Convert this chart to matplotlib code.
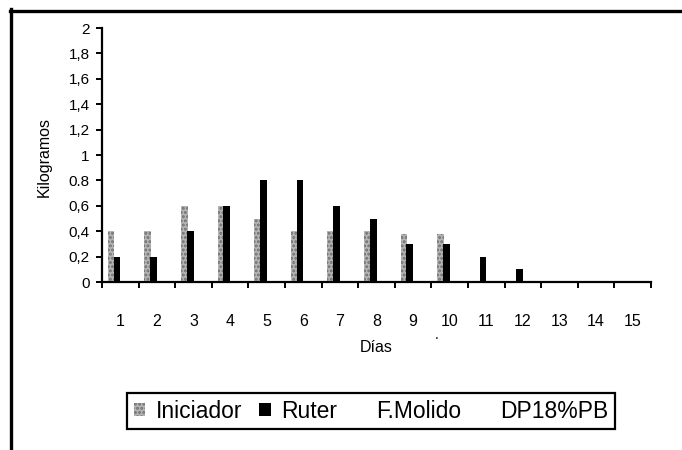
import numpy as np
import matplotlib
matplotlib.use("Agg")
import matplotlib.pyplot as plt
from matplotlib.patches import Patch
from matplotlib.lines import Line2D

plt.rcParams['font.family'] = ['Liberation Sans', 'DejaVu Sans']
plt.rcParams['hatch.linewidth'] = 1.4

# data
dias = [str(d) for d in range(1, 16)]
iniciador = [0.4, 0.4, 0.6, 0.6, 0.5, 0.4, 0.4, 0.4, 0.38, 0.38, 0, 0, 0, 0, 0]
ruter = [0.2, 0.2, 0.4, 0.6, 0.8, 0.8, 0.6, 0.5, 0.3, 0.3, 0.2, 0.1, 0, 0, 0]
series_names = ["Iniciador", "Ruter", "F.Molido", "DP18%PB"]
y_ticks = [0, 0.2, 0.4, 0.6, 0.8, 1, 1.2, 1.4, 1.6, 1.8, 2]
y_labels = ["0", "0,2", "0,4", "0,6", "0.8", "1", "1,2", "1,4", "1,6", "1,8", "2"]

W, H = 682, 450
fig = plt.figure(figsize=(W / 100, H / 100), dpi=100)
ax = fig.add_axes([102 / W, 1 - 282 / H, (651 - 102) / W, (282 - 28) / H])

x = np.arange(1, len(dias) + 1)
bw = 0.18
ax.bar(x - 0.25, iniciador, width=bw, color="#b4b4b4", edgecolor="#6e6e6e",
       hatch="....", linewidth=0)
ax.bar(x - 0.09, ruter, width=bw + 0.01, color="black", linewidth=0)

ax.set_xlim(0.5, 15.5)
ax.set_ylim(0, 2)
ax.set_yticks(y_ticks)
ax.set_yticklabels(y_labels, fontsize=11)
ax.set_xticks(x)
ax.set_xticklabels(dias, fontsize=11.5)
ax.set_xticks(np.arange(0.5, 16, 1), minor=True)
ax.tick_params(axis="x", which="major", length=0, pad=23)
ax.tick_params(axis="x", which="minor", length=4, width=1.4, direction="out")
ax.tick_params(axis="y", length=4, width=1.4, direction="out", pad=5)

for s in ["top", "right"]:
    ax.spines[s].set_visible(False)
for s in ["left", "bottom"]:
    ax.spines[s].set_linewidth(1.6)

fig.text(376 / W, 1 - 347 / H, "Días", fontsize=11.5, ha="center", va="center")
fig.text(44 / W, 1 - 157 / H, "Kilogramos", fontsize=11.5, rotation=90,
         ha="center", va="center")
fig.text(437 / W, 1 - 335 / H, ".", fontsize=10, ha="center", va="center")

handles = [
    Patch(facecolor="#b4b4b4", edgecolor="#6e6e6e", hatch="....", linewidth=0),
    Patch(facecolor="black", linewidth=0),
    Patch(facecolor="none", edgecolor="none"),
    Patch(facecolor="none", edgecolor="none"),
]
leg = fig.legend(handles, series_names, loc="center",
                 bbox_to_anchor=(371 / W, 1 - 411 / H), ncol=4, fontsize=16.5,
                 frameon=True, fancybox=False, framealpha=1, edgecolor="black",
                 handlelength=0.5, handleheight=0.5, handletextpad=0.45,
                 columnspacing=0.75, borderpad=0.3, borderaxespad=0)
leg.get_frame().set_linewidth(1.6)

# scanned page frame: top and left edges
fig.add_artist(Line2D([10 / W, 1], [1 - 10.5 / H, 1 - 10.5 / H], color="black",
                      linewidth=2.4, transform=fig.transFigure))
fig.add_artist(Line2D([10.5 / W, 10.5 / W], [0, 1 - 9 / H], color="black",
                      linewidth=2.4, transform=fig.transFigure))

fig.savefig("out.png", dpi=100)
